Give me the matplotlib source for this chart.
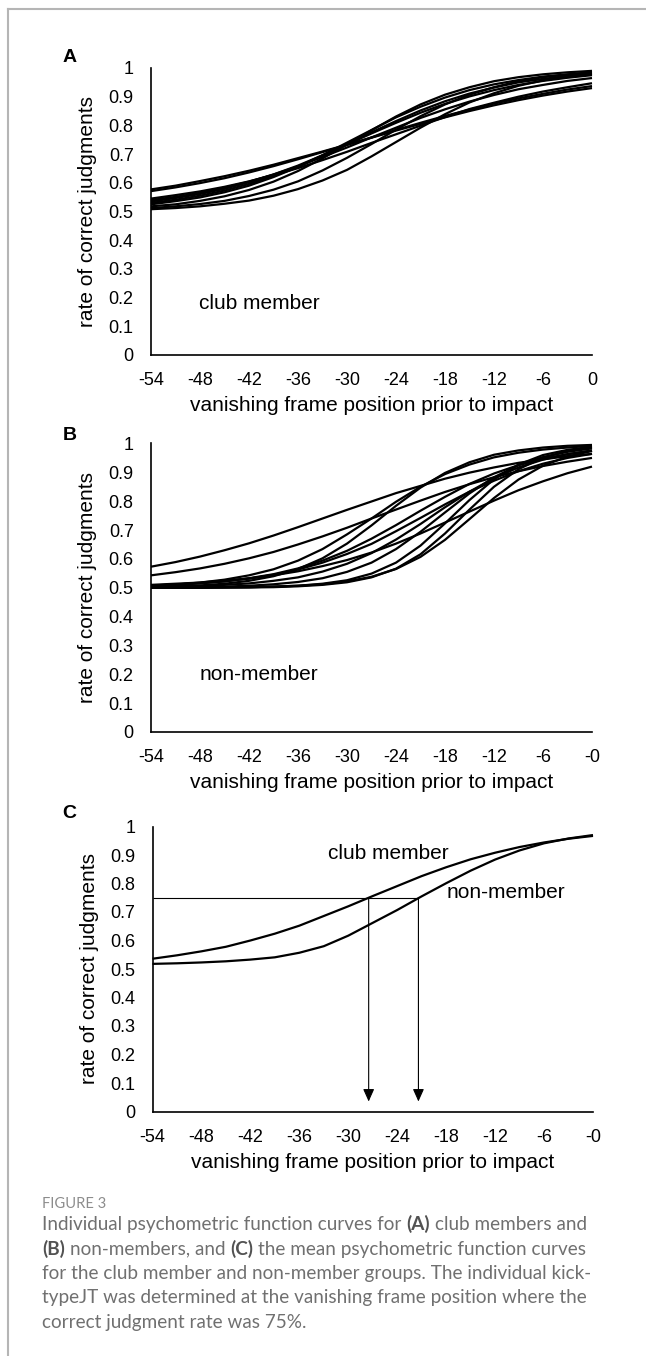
import numpy as np
import matplotlib
matplotlib.use("Agg")
import matplotlib.pyplot as plt
from matplotlib.lines import Line2D

plt.rcParams["font.family"] = "Liberation Sans"

# --- data ---
frames = [-54, -51, -48, -45, -42, -39, -36, -33, -30, -27,
          -24, -21, -18, -15, -12, -9, -6, -3, 0]

# individual psychometric curves, club members
club_curves = [
    [0.577, 0.590, 0.606, 0.623, 0.642, 0.663, 0.686, 0.709, 0.733, 0.757, 0.782, 0.805, 0.828, 0.850, 0.870, 0.888, 0.904, 0.918, 0.930],
    [0.571, 0.584, 0.599, 0.616, 0.636, 0.658, 0.682, 0.707, 0.732, 0.758, 0.784, 0.809, 0.833, 0.855, 0.876, 0.894, 0.910, 0.925, 0.937],
    [0.545, 0.557, 0.570, 0.586, 0.605, 0.627, 0.651, 0.679, 0.708, 0.739, 0.769, 0.799, 0.829, 0.857, 0.879, 0.900, 0.918, 0.933, 0.947],
    [0.540, 0.551, 0.565, 0.583, 0.604, 0.629, 0.657, 0.690, 0.723, 0.758, 0.792, 0.826, 0.856, 0.883, 0.906, 0.926, 0.941, 0.955, 0.965],
    [0.535, 0.547, 0.561, 0.579, 0.602, 0.629, 0.660, 0.696, 0.733, 0.772, 0.809, 0.844, 0.875, 0.901, 0.923, 0.941, 0.955, 0.966, 0.975],
    [0.530, 0.541, 0.555, 0.573, 0.596, 0.624, 0.657, 0.695, 0.735, 0.776, 0.815, 0.852, 0.884, 0.911, 0.932, 0.950, 0.962, 0.972, 0.979],
    [0.525, 0.536, 0.549, 0.567, 0.590, 0.620, 0.655, 0.696, 0.740, 0.784, 0.828, 0.865, 0.897, 0.923, 0.943, 0.958, 0.970, 0.978, 0.985],
    [0.518, 0.525, 0.537, 0.553, 0.575, 0.604, 0.641, 0.685, 0.733, 0.783, 0.831, 0.873, 0.907, 0.933, 0.954, 0.968, 0.978, 0.985, 0.990],
    [0.512, 0.518, 0.526, 0.537, 0.554, 0.576, 0.605, 0.643, 0.687, 0.735, 0.785, 0.832, 0.873, 0.907, 0.933, 0.954, 0.968, 0.977, 0.985],
    [0.508, 0.512, 0.518, 0.527, 0.538, 0.555, 0.578, 0.608, 0.645, 0.692, 0.742, 0.792, 0.839, 0.880, 0.912, 0.938, 0.957, 0.970, 0.979],
]

# individual psychometric curves, non-members
non_curves = [
    [0.573, 0.589, 0.608, 0.630, 0.654, 0.681, 0.710, 0.740, 0.770, 0.799, 0.828, 0.853, 0.878, 0.899, 0.917, 0.933, 0.945, 0.956, 0.964],
    [0.543, 0.554, 0.567, 0.583, 0.602, 0.624, 0.650, 0.678, 0.708, 0.740, 0.771, 0.802, 0.832, 0.859, 0.883, 0.904, 0.922, 0.937, 0.950],
    [0.510, 0.514, 0.518, 0.525, 0.532, 0.543, 0.557, 0.575, 0.596, 0.622, 0.653, 0.688, 0.726, 0.764, 0.802, 0.838, 0.869, 0.897, 0.920],
    [0.507, 0.510, 0.515, 0.522, 0.533, 0.547, 0.567, 0.594, 0.628, 0.670, 0.717, 0.767, 0.815, 0.860, 0.896, 0.925, 0.947, 0.963, 0.975],
    [0.507, 0.511, 0.518, 0.528, 0.543, 0.564, 0.594, 0.634, 0.685, 0.740, 0.798, 0.850, 0.894, 0.927, 0.952, 0.968, 0.979, 0.986, 0.992],
    [0.503, 0.505, 0.508, 0.514, 0.524, 0.540, 0.565, 0.602, 0.653, 0.716, 0.784, 0.847, 0.898, 0.935, 0.961, 0.976, 0.986, 0.992, 0.995],
    [0.508, 0.511, 0.516, 0.522, 0.532, 0.545, 0.563, 0.587, 0.617, 0.652, 0.696, 0.742, 0.789, 0.833, 0.871, 0.904, 0.930, 0.950, 0.964],
    [0.502, 0.504, 0.506, 0.510, 0.515, 0.524, 0.536, 0.556, 0.583, 0.620, 0.667, 0.721, 0.779, 0.833, 0.880, 0.917, 0.944, 0.963, 0.976],
    [0.500, 0.500, 0.500, 0.501, 0.502, 0.504, 0.507, 0.514, 0.526, 0.549, 0.587, 0.646, 0.723, 0.804, 0.876, 0.927, 0.960, 0.978, 0.989],
    [0.500, 0.500, 0.500, 0.501, 0.501, 0.502, 0.505, 0.510, 0.519, 0.536, 0.566, 0.616, 0.688, 0.771, 0.850, 0.911, 0.951, 0.974, 0.986],
    [0.500, 0.500, 0.501, 0.501, 0.502, 0.504, 0.507, 0.512, 0.522, 0.538, 0.565, 0.607, 0.666, 0.738, 0.811, 0.875, 0.923, 0.955, 0.974],
    [0.501, 0.501, 0.502, 0.504, 0.507, 0.512, 0.520, 0.533, 0.555, 0.587, 0.634, 0.694, 0.761, 0.827, 0.883, 0.925, 0.953, 0.971, 0.983],
]

# group means
club_mean = [0.536, 0.548, 0.562, 0.578, 0.600, 0.624, 0.652, 0.686, 0.720, 0.756,
             0.791, 0.826, 0.857, 0.885, 0.908, 0.928, 0.944, 0.957, 0.967]
non_mean = [0.518, 0.520, 0.523, 0.527, 0.533, 0.541, 0.557, 0.580, 0.617, 0.662,
            0.707, 0.755, 0.801, 0.845, 0.884, 0.916, 0.941, 0.958, 0.970]

# judgment thresholds at 75 % correct
criterion = 0.75
jt_club = -27.5
jt_non = -21.4

x_ticks = [-54, -48, -42, -36, -30, -24, -18, -12, -6, 0]
x_labels_a = ["-54", "-48", "-42", "-36", "-30", "-24", "-18", "-12", "-6", "0"]
x_labels_bc = ["-54", "-48", "-42", "-36", "-30", "-24", "-18", "-12", "-6", "-0"]
y_ticks = [0, 0.1, 0.2, 0.3, 0.4, 0.5, 0.6, 0.7, 0.8, 0.9, 1.0]
y_labels = ["0", "0.1", "0.2", "0.3", "0.4", "0.5", "0.6", "0.7", "0.8", "0.9", "1"]

W, H = 646, 1356
fig = plt.figure(figsize=(W / 100, H / 100), dpi=100)


def px_axes(left, top, right, bottom):
    return fig.add_axes([left / W, 1 - bottom / H, (right - left) / W, (bottom - top) / H])


def style_axes(ax, xlabels):
    ax.set_xlim(-54, 0)
    ax.set_ylim(0, 1)
    ax.spines[["top", "right"]].set_visible(False)
    for s in ("left", "bottom"):
        ax.spines[s].set_linewidth(1.2)
    ax.set_xticks(x_ticks)
    ax.set_xticklabels(xlabels)
    ax.set_yticks(y_ticks)
    ax.set_yticklabels(y_labels)
    ax.tick_params(length=0, labelsize=13, pad=12.5)
    ax.set_xlabel("vanishing frame position prior to impact", fontsize=15, labelpad=5)
    ax.set_ylabel("rate of correct judgments", fontsize=15, labelpad=8)


line_kw = dict(color="black", lw=1.6, solid_capstyle="butt", clip_on=False)

# (A) club members
ax_a = px_axes(151, 68, 592, 355)
for c in club_curves:
    ax_a.plot(frames, c, **line_kw)
style_axes(ax_a, x_labels_a)
ax_a.text(-48.1, 0.18, "club member", fontsize=15, va="center")

# (B) non-members
ax_b = px_axes(151, 443.5, 592, 732)
for c in non_curves:
    ax_b.plot(frames, c, **line_kw)
style_axes(ax_b, x_labels_bc)
ax_b.text(-48.0, 0.20, "non-member", fontsize=15, va="center")

# (C) group means with 75 % thresholds
ax_c = px_axes(152.5, 826.5, 593, 1111.5)
ax_c.plot(frames, club_mean, **line_kw)
ax_c.plot(frames, non_mean, **line_kw)
style_axes(ax_c, x_labels_bc)
ax_c.hlines(criterion, -54, jt_non, color="black", lw=0.8)
for jt in (jt_club, jt_non):
    ax_c.annotate("", xy=(jt, 0.035), xytext=(jt, criterion),
                  arrowprops=dict(arrowstyle="-|>,head_length=0.76,head_width=0.34",
                                  mutation_scale=10, lw=0.8, color="black",
                                  shrinkA=0, shrinkB=0))
ax_c.text(-32.5, 0.907, "club member", fontsize=15, va="center")
ax_c.text(-17.9, 0.767, "non-member", fontsize=15, va="center")

# panel letters
for letter, (x, y) in {"A": (70, 57), "B": (69.5, 435), "C": (69, 814)}.items():
    fig.text(x / W, 1 - y / H, letter, fontsize=14, fontweight="bold",
             ha="center", va="center")

# frame lines
frame_col = "#b5b5b5"
fig.add_artist(Line2D([7.5 / W, 7.5 / W], [0, 1 - 9 / H], transform=fig.transFigure,
                      color=frame_col, lw=1.5))
fig.add_artist(Line2D([7.5 / W, 1], [1 - 9 / H, 1 - 9 / H], transform=fig.transFigure,
                      color=frame_col, lw=1.5))

# caption
cap_font = "Lato"
cap_col = "#707070"
bold_col = "#525252"
renderer = fig.canvas.get_renderer()

fig.text(42 / W, 1 - 1208 / H, "FIGURE 3", fontsize=10.6, color="#8c8c8c",
         family=cap_font, va="baseline")

caption = [
    [("Individual psychometric function curves for", False), ("(A)", True), ("club members and", False)],
    [("(B)", True), ("non-members, and", False), ("(C)", True), ("the mean psychometric function curves", False)],
    [("for the club member and non-member groups. The individual kick-", False)],
    [("typeJT was determined at the vanishing frame position where the", False)],
    [("correct judgment rate was 75%.", False)],
]
baselines = [1230, 1254.5, 1279, 1303.5, 1328]


def text_width(s, size, weight="normal"):
    t = fig.text(0, 0, s, fontsize=size, family=cap_font, fontweight=weight)
    w = t.get_window_extent(renderer).width
    t.remove()
    return w


# size the caption so the third line fills the column width
cap_size = 10 * 548 / text_width(caption[2][0][0], 10)
space_w = text_width("a a", cap_size) - text_width("aa", cap_size)

for parts, base in zip(caption, baselines):
    x = 42.0
    for i, (s, bold) in enumerate(parts):
        if i > 0:
            x += space_w
        t = fig.text(x / W, 1 - base / H, s, fontsize=cap_size, family=cap_font,
                     fontweight="bold" if bold else "normal",
                     color=bold_col if bold else cap_col, va="baseline")
        x += t.get_window_extent(renderer).width

fig.savefig("out.png", dpi=100)
